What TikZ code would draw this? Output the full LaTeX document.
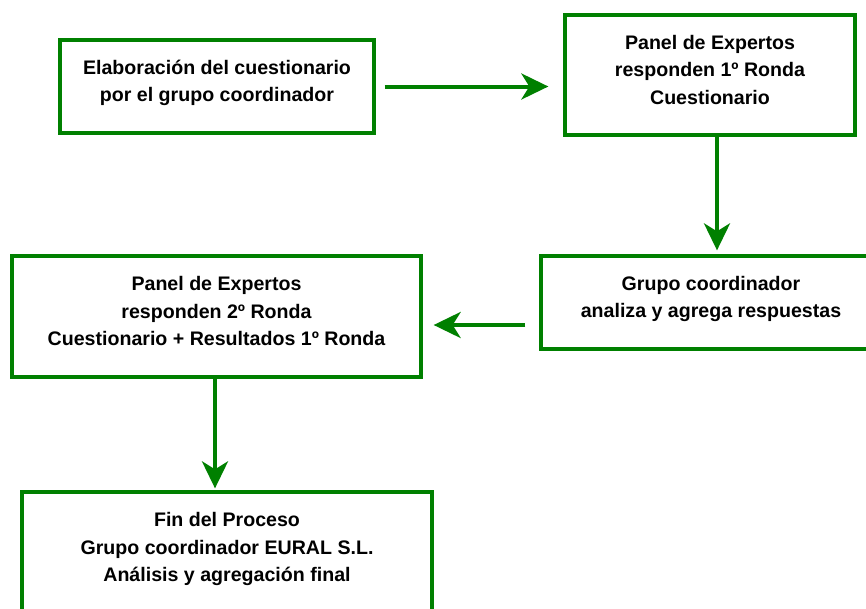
\documentclass[tikz,border=0pt]{standalone}
\usepackage{fontspec}
\setmainfont{Liberation Sans}
\usepackage{tikz}
\usetikzlibrary{arrows.meta,positioning}
\definecolor{eugreen}{RGB}{0,128,0}
\tikzstyle{stage}=[rectangle,draw=eugreen,line width=3.3pt,fill=white,
align=center,font=\bfseries\fontsize{19.6}{27.5}\selectfont,inner sep=0pt,text depth=11pt]
\tikzstyle{flow}=[draw=eugreen,line width=4pt,->]

\begin{document}
\begin{tikzpicture}[x=1pt,y=-1pt,>={Stealth[length=27pt,width=26pt,inset=8pt]}]
            \useasboundingbox (0,0) rectangle (866,608);
            \clip (0,0) rectangle (866,608);

            % FIRST ROUND PART

            \node[stage,minimum width=314pt,minimum height=93pt] (elab) at (217,86.5)
                {Elaboración del cuestionario\\por el grupo coordinador};
            \node[stage,minimum width=290pt,minimum height=120pt] (panel1) at (710,75)
                {Panel de Expertos\\responden 1º Ronda\\Cuestionario};
            \node[stage,minimum width=340pt,minimum height=93pt] (grupo) at (711,302.5)
                {Grupo coordinador\\analiza y agrega respuestas};

            \draw[flow,shorten <=9pt,shorten >=15pt] (elab.east) -- (elab -| panel1.west);
            \draw[flow,shorten >=4pt] ([xshift=7pt]panel1.south) -- ([xshift=7pt]panel1.south |- grupo.north);

            % SECOND ROUND PART

            \node[stage,minimum width=409pt,minimum height=121pt] (panel2) at (216.5,316.5)
                {Panel de Expertos\\responden 2º Ronda\\Cuestionario + Resultados 1º Ronda};
            \node[stage,minimum width=410pt,minimum height=121pt] (fin) at (227,552.5)
                {Fin del Proceso\\Grupo coordinador EURAL S.L.\\Análisis y agregación final};

            \draw[flow,shorten <=14pt,shorten >=11pt] ([yshift=-22.5pt]grupo.west) -- ([yshift=-22.5pt]grupo.west -| panel2.east);
            \draw[flow,shorten >=2pt] ([xshift=-1.5pt]panel2.south) -- ([xshift=-1.5pt]panel2.south |- fin.north);

        \end{tikzpicture}
\end{document}
